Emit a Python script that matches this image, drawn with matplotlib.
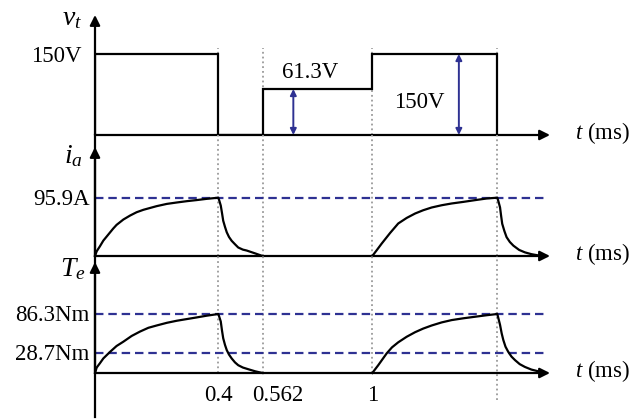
import numpy as np
import matplotlib
matplotlib.use('Agg')
import matplotlib.pyplot as plt

plt.rcParams['font.family'] = ['Liberation Serif', 'DejaVu Serif']
plt.rcParams['mathtext.fontset'] = 'custom'
plt.rcParams['mathtext.rm'] = 'Liberation Serif'
plt.rcParams['mathtext.it'] = 'Liberation Serif:italic'

# ---------------- data (ms, V, A, Nm) ----------------
vt_edges = [0.0, 0.4, 0.562, 1.0, 1.4]
vt_levels = [150, 0, 61.3, 150]
v_high = 150
v_low = 61.3
ia_peak = 95.9
te_peak = 86.3
te_load = 28.7
tick_times = [0.4, 0.562, 1.0]
tick_labels = ['0.4', '0.562', '1']
marker_times = [0.4, 0.562, 1.0, 1.4]

ia_t1 = [0, 0.0055, 0.016, 0.027, 0.043, 0.059, 0.070, 0.092, 0.114, 0.135, 0.157,
         0.200, 0.233, 0.265, 0.298, 0.330, 0.362, 0.400,
         0.4037, 0.409, 0.4136, 0.418, 0.4246, 0.431, 0.4392, 0.449, 0.4612,
         0.473, 0.490, 0.504, 0.535, 0.562]
ia_v1 = [0, 7.8, 16.0, 25.3, 35.2, 45.1, 51.2, 60.0, 66.6, 72.0, 76.0,
         82.0, 85.7, 88.0, 90.2, 92.0, 94.0, 95.9,
         91.0, 83.0, 70.6, 58.0, 47.8, 39.0, 31.3, 25.0, 19.3,
         14.0, 10.5, 9.0, 4.3, 0]
ia_t2 = [1.0, 1.014, 1.030, 1.057, 1.083, 1.110, 1.137, 1.163, 1.190, 1.222, 1.254,
         1.291, 1.329, 1.366, 1.400,
         1.404, 1.410, 1.414, 1.418, 1.426, 1.434, 1.446, 1.459, 1.480, 1.501,
         1.525, 1.550, 1.562]
ia_v2 = [0, 9.4, 20.4, 37.9, 53.5, 62.6, 69.9, 75.3, 79.8, 83.5, 86.4,
         89.0, 91.9, 94.6, 95.9,
         90.0, 80.0, 66.0, 53.0, 41.0, 31.0, 23.0, 17.0, 10.0, 6.0,
         3.0, 1.0, 0]
te_t1 = [0, 0.0055, 0.016, 0.027, 0.049, 0.070, 0.092, 0.119, 0.146, 0.173,
         0.200, 0.233, 0.265, 0.298, 0.330, 0.362, 0.400,
         0.4037, 0.409, 0.4136, 0.418, 0.4246, 0.431, 0.4392, 0.449, 0.4612,
         0.473, 0.490, 0.510, 0.535, 0.562]
te_v1 = [0, 8.0, 14.3, 21.3, 31.0, 39.5, 45.8, 54.2, 60.6, 66.1,
         69.5, 73.4, 76.4, 78.9, 81.3, 83.8, 86.3,
         82.0, 75.4, 62.0, 50.8, 41.0, 33.5, 27.0, 21.3, 15.5,
         11.4, 8.0, 5.5, 2.5, 0]
te_t2 = [1.0, 1.019, 1.046, 1.063, 1.083, 1.110, 1.137, 1.163, 1.190, 1.222,
         1.254, 1.291, 1.329, 1.366, 1.400,
         1.404, 1.410, 1.416, 1.422, 1.430, 1.440, 1.452, 1.465, 1.482, 1.501,
         1.525, 1.550, 1.562]
te_v2 = [0, 11.4, 28.7, 37.5, 44.9, 53.0, 59.7, 65.0, 69.5, 74.0,
         77.4, 80.0, 82.3, 84.5, 86.3,
         80.0, 70.5, 58.0, 48.3, 38.5, 31.0, 24.0, 18.8, 13.0, 8.9,
         5.0, 2.5, 0]

# ---------------- schematic (non-uniform) scales ----------------
XT = np.array([-1.0, 0.0, 0.4, 0.562, 1.0, 1.4, 3.0])
XP = np.array([-308.0, 0.0, 123.3, 167.5, 277.3, 402.3, 402.3 + 1.6 * 273])
def fwd_x(t):
    return np.interp(t, XT, XP)
def inv_x(p):
    return np.interp(p, XP, XT)

YT = np.array([-300.0, 0.0, 61.3, 150.0, 400.0])
YP = np.array([-162.0, 0.0, 46.0, 81.0, 216.0])
def fwd_y(v):
    return np.interp(v, YT, YP)
def inv_y(p):
    return np.interp(p, YP, YT)

W, H = 633, 419
fig = plt.figure(figsize=(W / 100, H / 100), dpi=100)
L, R = 95, 560

def box(top, bottom):
    return [L / W, 1 - bottom / H, (R - L) / W, (bottom - top) / H]

blue = '#2E3192'
grey = '#9a9a9a'
lw = 1.6
PX = 0.72  # points per pixel
t_end = float(inv_x(455))
t_dash = float(inv_x(450))

ax1 = fig.add_axes(box(0, 135))
ax2 = fig.add_axes(box(135, 256))
ax3 = fig.add_axes(box(256, 419))
for ax in (ax1, ax2, ax3):
    ax.set_xscale('function', functions=(fwd_x, inv_x))
    ax.set_xlim(0, inv_x(R - L))
    ax.axis('off')
ax1.set_yscale('function', functions=(fwd_y, inv_y))
ax1.set_ylim(0, inv_y(135))
s2 = ia_peak / 58.3   # units per pixel
ax2.set_ylim(0, 121 * s2)
s3 = te_peak / 59.0
ax3.set_ylim(-46 * s3, 117 * s3)

def arrow(ax, x0, y0, x1, y1, color='k', style='-|>', ms=15, lw_=lw):
    ax.annotate('', xy=(x1, y1), xytext=(x0, y0), xycoords='data',
                annotation_clip=False,
                arrowprops=dict(arrowstyle=style, color=color, lw=lw_,
                                shrinkA=0, shrinkB=0, mutation_scale=ms))

# ---- dotted markers ----
for t in marker_times:
    ax1.plot([t, t], [0, inv_y(87)], ls=':', color=grey, lw=1.3, zorder=1, clip_on=False)
    ax2.plot([t, t], [0, 121 * s2], ls=':', color=grey, lw=1.3, zorder=1, clip_on=False)
    lo = -27 * s3 if t == marker_times[-1] else 0
    ax3.plot([t, t], [lo, 117 * s3], ls=':', color=grey, lw=1.3, zorder=1, clip_on=False)

# ---- panel 1: voltage ----
ax1.stairs(vt_levels, vt_edges, baseline=0, color='k', lw=lw, zorder=3)
arrow(ax1, 0, 0, t_end, 0)
arrow(ax1, 0, 0, 0, inv_y(120))
t_a1, t_a2 = 0.685, 1.277
arrow(ax1, t_a1, v_low, t_a1, 0, color=blue, style='<|-|>', ms=9, lw_=1.4)
arrow(ax1, t_a2, v_high, t_a2, 0, color=blue, style='<|-|>', ms=9, lw_=1.4)
fs = 16.5
ax1.annotate('150V', xy=(0, v_high), xytext=(-13 * PX, -2 * PX), textcoords='offset points',
             ha='right', va='center', fontsize=fs, annotation_clip=False)
ax1.annotate('61.3V', xy=(t_a1, v_low), xytext=(-11 * PX, 11 * PX), textcoords='offset points',
             ha='left', va='baseline', fontsize=fs, annotation_clip=False)
ax1.annotate('150V', xy=(t_a2, 0), xytext=(-14 * PX, 32 * PX), textcoords='offset points',
             ha='right', va='center', fontsize=fs, annotation_clip=False)

# ---- panel 2: current ----
ax2.plot([0, t_dash], [ia_peak, ia_peak], ls=(0, (3.8, 2.2)), color=blue, lw=1.6, zorder=2, clip_on=False)
ax2.plot(ia_t1, ia_v1, color='k', lw=lw, zorder=3, clip_on=False)
ax2.plot(ia_t2, ia_v2, color='k', lw=lw, zorder=3, clip_on=False)
arrow(ax2, 0, 0, t_end, 0)
ax2.plot([0, 0], [0, 121 * s2], color='k', lw=lw, clip_on=False)
arrow(ax2, 0, 0, 0, 109 * s2)
ax2.annotate('95.9A', xy=(0, ia_peak), xytext=(-5 * PX, -2 * PX), textcoords='offset points',
             ha='right', va='center', fontsize=fs, annotation_clip=False)

# ---- panel 3: torque ----
for lev in (te_peak, te_load):
    ax3.plot([0, t_dash], [lev, lev], ls=(0, (3.8, 2.2)), color=blue, lw=1.6, zorder=2, clip_on=False)
ax3.plot(te_t1, te_v1, color='k', lw=lw, zorder=3, clip_on=False)
ax3.plot(te_t2, te_v2, color='k', lw=lw, zorder=3, clip_on=False)
arrow(ax3, 0, 0, t_end, 0)
ax3.plot([0, 0], [-44 * s3, 117 * s3], color='k', lw=lw, clip_on=False)
arrow(ax3, 0, 0, 0, 111 * s3)
for lev, lab in ((te_peak, '86.3Nm'), (te_load, '28.7Nm')):
    ax3.annotate(lab, xy=(0, lev), xytext=(-6 * PX, -1.5 * PX), textcoords='offset points',
                 ha='right', va='center', fontsize=fs, annotation_clip=False)
tick_dx = [0, 15, 0]
for t, lab, dx in zip(tick_times, tick_labels, tick_dx):
    ax3.annotate(lab, xy=(t, 0), xytext=(dx * PX, -22 * PX), textcoords='offset points',
                 ha='center', va='center', fontsize=fs, annotation_clip=False)

# ---- t (ms) labels ----
for ax in (ax1, ax2, ax3):
    ax.annotate(r'$t$ (ms)', xy=(t_end, 0), xytext=(25 * PX, 2 * PX), textcoords='offset points',
                ha='left', va='center', fontsize=fs, annotation_clip=False)

# ---- axis names ----
fig.text(62 / W, 1 - 25 / H, r'$v_t$', fontsize=20, ha='left', va='baseline')
fig.text(64 / W, 1 - 163 / H, r'$i_a$', fontsize=20, ha='left', va='baseline')
fig.text(60 / W, 1 - 276 / H, r'$T_e$', fontsize=20, ha='left', va='baseline')

fig.savefig('out.png', dpi=100)
